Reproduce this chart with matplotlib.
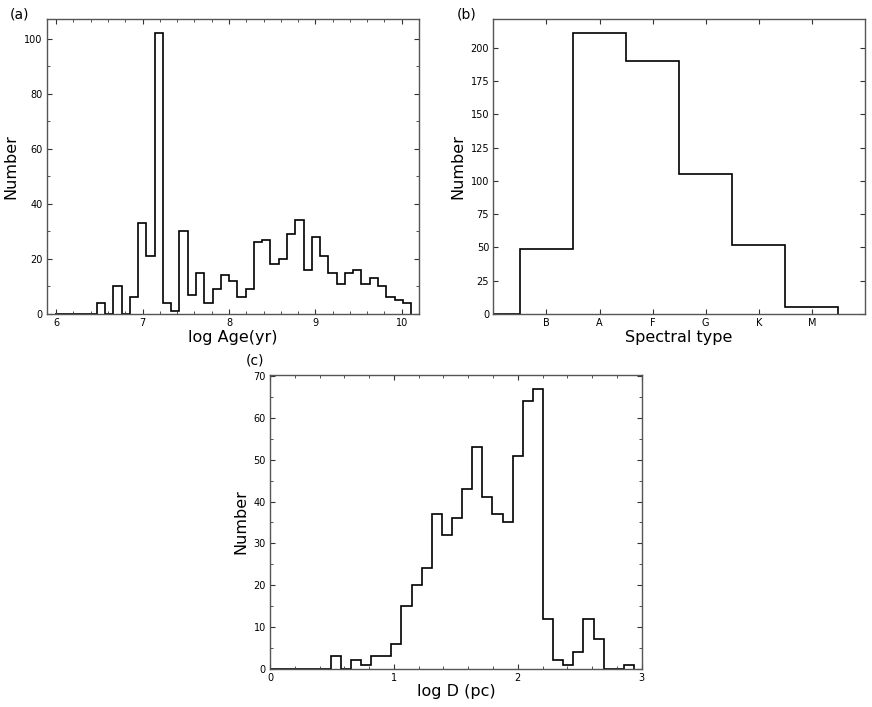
import numpy as np
import matplotlib
matplotlib.use("Agg")
import matplotlib.pyplot as plt
from matplotlib.ticker import MultipleLocator

# ---- Data ----
# (a) log Age histogram
age_lo, age_hi = 5.99, 10.108
age_counts = [0, 0, 0, 0, 0,
              4, 0, 10, 0, 6, 33, 21, 102, 4, 1, 30, 7, 15, 4, 9, 14, 12, 6, 9,
              26, 27, 18, 20, 29, 34, 16, 28, 21, 15, 11, 15, 16, 11, 13, 10, 6, 5, 4]

# (b) spectral type
spec_types = ["B", "A", "F", "G", "K", "M"]
spec_counts = [49, 211, 190, 105, 52, 5]

# (c) log D histogram
d_lo, d_hi = 0.0, 2.938
d_counts = [0, 0, 0, 0, 0, 0,
            3, 0, 2, 1, 3, 3, 6, 15, 20, 24, 37, 32, 36, 43, 53, 41, 37, 35,
            51, 64, 67, 12, 2, 1, 4, 12, 7, 0, 0, 1]

W, H = 872, 707
fig = plt.figure(figsize=(W / 100, H / 100), dpi=100)

def ax_px(l, t, r, b):
    return fig.add_axes([l / W, 1 - b / H, (r - l) / W, (b - t) / H])

spine_col = "#555555"

def style(ax):
    for s in ax.spines.values():
        s.set_color(spine_col)
        s.set_linewidth(1.0)
    ax.tick_params(which="both", direction="in", top=True, right=True,
                   labelsize=7, color="#333333", pad=3)
    ax.tick_params(which="major", length=3.5, width=0.8)
    ax.tick_params(which="minor", length=2, width=0.6)

# (a)
axa = ax_px(46.7, 19, 419, 314)
edges_a = np.linspace(age_lo, age_hi, len(age_counts) + 1)
axa.stairs(age_counts, edges_a, color="black", linewidth=1.2)
axa.set_xlim(5.89, 10.2)
axa.set_ylim(0, max(age_counts) * 1.05)
axa.xaxis.set_major_locator(MultipleLocator(1))
axa.xaxis.set_minor_locator(MultipleLocator(0.2))
axa.yaxis.set_major_locator(MultipleLocator(20))
axa.yaxis.set_minor_locator(MultipleLocator(10))
style(axa)
axa.set_xlabel("log Age(yr)", fontsize=11.5, labelpad=1)
axa.set_ylabel("Number", fontsize=11.5, labelpad=4)
fig.text(10 / W, 1 - 15 / H, "(a)", fontsize=10, va="center", ha="left")

# (b)
axb = ax_px(493.3, 19, 865, 314)
pos_b = np.arange(1, len(spec_types) + 1)
edges_b = np.concatenate([[0.0], np.arange(0.5, len(spec_types) + 1, 1.0)])
axb.stairs([0] + spec_counts, edges_b, color="black", linewidth=1.2)
axb.set_xlim(0, len(spec_types) + 1)
axb.set_ylim(0, max(spec_counts) * 1.05)
axb.set_xticks(pos_b)
axb.set_xticklabels(spec_types)
axb.yaxis.set_major_locator(MultipleLocator(25))
style(axb)
axb.set_xlabel("Spectral type", fontsize=11.5, labelpad=1)
axb.set_ylabel("Number", fontsize=11.5, labelpad=4)
fig.text(457 / W, 1 - 14 / H, "(b)", fontsize=10, va="center", ha="left")

# (c)
axc = ax_px(270, 374.7, 641.7, 668.7)
edges_c = np.linspace(d_lo, d_hi, len(d_counts) + 1)
axc.stairs(d_counts, edges_c, color="black", linewidth=1.2)
axc.set_xlim(0, 3)
axc.set_ylim(0, max(d_counts) * 1.05)
axc.xaxis.set_major_locator(MultipleLocator(1))
axc.xaxis.set_minor_locator(MultipleLocator(0.2))
axc.yaxis.set_major_locator(MultipleLocator(10))
axc.yaxis.set_minor_locator(MultipleLocator(5))
style(axc)
axc.set_xlabel("log D (pc)", fontsize=11.5, labelpad=1)
axc.set_ylabel("Number", fontsize=11.5, labelpad=4)
fig.text(246 / W, 1 - 360 / H, "(c)", fontsize=10, va="center", ha="left")

fig.savefig("out.png", dpi=100)
